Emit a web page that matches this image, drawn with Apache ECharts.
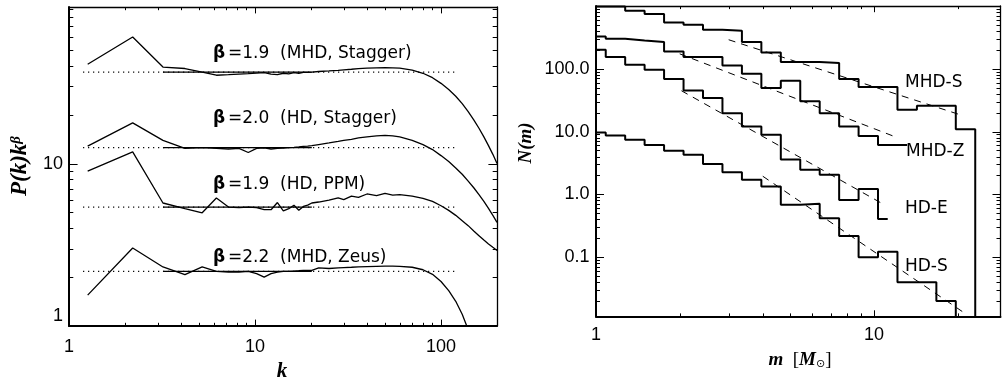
<!DOCTYPE html>
<html><head><meta charset="utf-8">
<script src="https://cdn.jsdelivr.net/npm/echarts@6/dist/echarts.min.js"></script>
<style>html,body{margin:0;padding:0;background:#fff}#c{width:1004px;height:384px}</style>
</head><body><div id="c"></div>
<script>
// ===== Left panel: compensated power spectra P(k) k^beta =====
const kLow = [1.26, 2.2, 3.2, 4.2, 5.2, 6.2, 7.2, 8.2, 9.2, 10.2, 11.2, 12.2, 13.2, 14.2, 15.2, 16.2, 17.2, 18.2, 19.2, 20.2];
const kHigh = [22, 25, 28, 30, 33, 36, 40, 45, 50, 55, 60, 70, 80, 90, 100, 110, 120, 130, 140, 150, 160, 170, 180, 190, 200];
const mhdStaggerLow = [40.9, 60.2, 39.3, 38.5, 36.6, 35.0, 35.3, 35.6, 35.8, 36.1, 36.3, 35.6, 35.3, 36.0, 35.7, 36.3, 36.0, 36.4, 36.5, 36.6];
const mhdStaggerHigh = [36.9, 37.2, 37.5, 37.8, 38.1, 38.4, 38.7, 38.9, 39.0, 38.9, 38.7, 37.6, 36.0, 33.8, 31.2, 28.6, 26.0, 23.4, 20.9, 18.6, 16.5, 14.6, 12.9, 11.4, 10.0];
const hdStaggerLow = [12.8, 17.8, 13.9, 12.4, 12.55, 12.4, 12.3, 12.4, 11.7, 12.4, 12.5, 12.3, 12.4, 12.45, 12.55, 12.6, 12.65, 12.75, 12.8, 12.9];
const hdStaggerHigh = [13.1, 13.4, 13.7, 13.9, 14.1, 14.4, 14.6, 14.8, 14.9, 14.8, 14.6, 13.9, 13.1, 12.2, 11.2, 10.3, 9.4, 8.6, 7.8, 7.1, 6.45, 5.85, 5.3, 4.8, 4.35];
const hdPpmLow = [9.0, 11.8, 5.72, 5.28, 4.98, 6.14, 5.40, 5.36, 5.40, 5.36, 5.2, 5.2, 5.76, 5.11, 5.28, 5.54, 5.16, 5.45, 5.55, 5.72];
const hdPpmHigh = [5.8, 5.95, 6.15, 6.0, 6.3, 6.2, 6.5, 6.35, 6.55, 6.4, 6.45, 6.3, 6.1, 5.85, 5.5, 5.15, 4.8, 4.45, 4.15, 3.85, 3.6, 3.38, 3.2, 3.05, 2.92];
const mhdZeusLow = [1.55, 3.02, 2.31, 2.07, 2.31, 2.17, 2.15, 2.15, 2.17, 2.10, 2.0, 2.1, 2.15, 2.17, 2.17, 2.18, 2.19, 2.2, 2.2, 2.2];
const mhdZeusHigh = [2.28, 2.26, 2.28, 2.29, 2.3, 2.31, 2.32, 2.33, 2.34, 2.34, 2.33, 2.3, 2.22, 2.08, 1.88, 1.65, 1.42, 1.18, 0.95, null, null, null, null, null, null];
const fitLevels = [36.6, 12.55, 5.40, 2.17];
const fitRangeSolid = [3.2, 20.2];
const fitRangeDotted = [1.19, 119];
const betas = ['1.9', '2.0', '1.9', '2.2'];
const models = ['(MHD, Stagger)', '(HD, Stagger)', '(HD, PPM)', '(MHD, Zeus)'];

// ===== Right panel: mass spectra N(m) =====
const massBins = [1.0, 1.175, 1.380, 1.621, 1.905, 2.238, 2.629, 3.089, 3.629, 4.263, 5.008, 5.883, 6.911, 8.119, 9.537, 11.20, 13.16, 15.46, 18.16, 21.33, 25.06];
const nMhdS = [985, 985, 841, 745, 548, 503, 419, 404, 267, 182, 128, 128, 123, 69, 51, 51, 22.2, 25.7, 25.7, 10.9, 0];
const nMhdZ = [327, 301, 283, 267, 189, 154, 154, 113, 83.3, 49.2, 64.4, 30.5, 19.6, 12.0, 8.5, 6.1, 6.1];
const nHdE = [201, 154, 116, 96.4, 69, 45.1, 34.1, 19.6, 12.0, 8.86, 3.6, 2.45, 2.04, 0.81, 1.21, 0.405];
const nHdS = [9.64, 8.64, 7.38, 6.1, 4.93, 4.25, 3.05, 2.25, 1.70, 1.33, 0.68, 0.71, 0.416, 0.217, 0.099, 0.122, 0.0396, 0.0396, 0.020, 0];
const fitMhdS = [[3.0, 290], [20.8, 18.0]];
const fitMhdZ = [[2.0, 173], [11.95, 8.2]];
const fitHdE = [[2.03, 44.6], [10.9, 0.68]];
const fitHdS = [[3.98, 1.94], [20.8, 0.0135]];
const histLabels = ['MHD-S', 'MHD-Z', 'HD-E', 'HD-S'];

// ===== Axis ranges and tick values =====
const leftX = [1, 200], leftY = [1, 92.1];
const rightX = [1, 28.5], rightY = [0.0113, 1000];
const leftXMajor = [1, 10, 100];
const leftYMajor = [1, 10];
const rightXMajor = [1, 10];
const rightYMajor = [0.1, 1, 10, 100];
const leftXMinor = [2, 3, 4, 5, 6, 7, 8, 9, 20, 30, 40, 50, 60, 70, 80, 90];
const leftYMinor = [2, 3, 4, 5, 6, 7, 8, 9, 20, 30, 40, 50, 60, 70, 80, 90];
const rightXMinor = [2, 3, 4, 5, 6, 7, 8, 9, 20];
const rightYMinor = [0.02, 0.03, 0.04, 0.05, 0.06, 0.07, 0.08, 0.09, 0.2, 0.3, 0.4, 0.5, 0.6, 0.7, 0.8, 0.9,
  2, 3, 4, 5, 6, 7, 8, 9, 20, 30, 40, 50, 60, 70, 80, 90, 200, 300, 400, 500, 600, 700, 800, 900];
const leftXLabels = {0: '1', 1: '10', 2: '100'};
const leftYLabels = {0: '1', 1: '10'};
const rightXLabels = {0: '1', 1: '10'};
const rightYLabels = {'-1': '0.1', 0: '1.0', 1: '10.0', 2: '100.0'};

// ===== helpers =====
function lg(v) { return Math.round(Math.log10(v) * 1000) / 1000; }
function fmt(map) { return function (v) { const l = lg(v); return (Number.isInteger(l) && map[l] !== undefined) ? map[l] : ''; }; }
function curve(low, high) {
  return kLow.map((k, i) => [k, low[i]]).concat(kHigh.map((k, i) => [k, high[i]]).filter(p => p[1] != null));
}
// IDL-style histogram steps (psym=10): steps halfway between bin centres
function steps(centers, vals) {
  const pts = [];
  const n = vals.length;
  for (let i = 0; i < n; i++) {
    const v = vals[i] > 0 ? vals[i] : 1e-6;
    const left = i === 0 ? centers[0] : Math.sqrt(centers[i - 1] * centers[i]);
    const right = i === n - 1 ? centers[i] : Math.sqrt(centers[i] * centers[i + 1]);
    pts.push([left, v], [right, v]);
  }
  return pts;
}
// inward tick marks on all four sides of a grid
function tickSeries(xi, yi, xr, yr, xMaj, xMin, yMaj, yMin, lxMaj, lxMin, lyMaj, lyMin) {
  const data = [];
  xMaj.forEach(v => data.push([v, yr[0], 0, lxMaj]));
  xMin.forEach(v => data.push([v, yr[0], 0, lxMin]));
  yMaj.forEach(v => data.push([xr[0], v, 1, lyMaj]));
  yMin.forEach(v => data.push([xr[0], v, 1, lyMin]));
  return {
    type: 'custom', xAxisIndex: xi, yAxisIndex: yi, silent: true, z: 10, clip: false,
    dimensions: ['x', 'y', 'kind', 'len'],
    encode: {x: 'x', y: 'y'},
    data: data,
    renderItem: function (params, api) {
      const kind = api.value('kind');
      const len = api.value('len');
      const st = {stroke: '#000', lineWidth: 1};
      if (kind === 0) {
        const v = api.value('x');
        const b = api.coord([v, yr[0]]), t = api.coord([v, yr[1]]);
        const x = Math.round(b[0]) + 0.5;
        return {type: 'group', children: [
          {type: 'line', shape: {x1: x, y1: b[1], x2: x, y2: b[1] - len}, style: st},
          {type: 'line', shape: {x1: x, y1: t[1], x2: x, y2: t[1] + len}, style: st}
        ]};
      } else {
        const v = api.value('y');
        const l = api.coord([xr[0], v]), r = api.coord([xr[1], v]);
        const y = Math.round(l[1]) + 0.5;
        return {type: 'group', children: [
          {type: 'line', shape: {x1: l[0], y1: y, x2: l[0] + len, y2: y}, style: st},
          {type: 'line', shape: {x1: r[0], y1: y, x2: r[0] - len, y2: y}, style: st}
        ]};
      }
    }
  };
}
const tickFont = {color: '#000', fontSize: 18, fontFamily: '"Liberation Sans", Arial, sans-serif'};
function xAx(grid, range, pos, main, labels, margin) {
  return {
    gridIndex: grid, type: 'log', min: range[0], max: range[1], position: pos,
    axisLine: {show: true, lineStyle: {color: '#000', width: main ? 2 : 1.3}},
    axisTick: {show: false},
    axisLabel: main ? Object.assign({show: true, margin: margin, formatter: fmt(labels)}, tickFont) : {show: false},
    splitLine: {show: false}
  };
}
function yAx(grid, range, pos, main, labels, margin, rich) {
  const lab = main ? Object.assign({show: true, margin: margin, formatter: fmt(labels)}, tickFont) : {show: false};
  if (main && rich) { lab.formatter = rich.f; lab.rich = rich.r; }
  return {
    gridIndex: grid, type: 'log', min: range[0], max: range[1], position: pos,
    axisLine: {show: true, lineStyle: {color: '#000', width: main ? 2 : 1.3}},
    axisTick: {show: false},
    axisLabel: lab, splitLine: {show: false}
  };
}
const leftYRich = {
  f: function (v) { const l = lg(v); if (l === 0) return '{up|' + leftYLabels[0] + '}'; return (Number.isInteger(l) && leftYLabels[l] !== undefined) ? leftYLabels[l] : ''; },
  r: {up: {fontSize: 18, fontFamily: '"Liberation Sans", Arial, sans-serif', color: '#000', padding: [0, 0, 20, 0]}}
};

const lineCol = '#000';
const series = [];
series.push(tickSeries(0, 0, leftX, leftY, leftXMajor, leftXMinor, leftYMajor, leftYMinor, 6.4, 3.2, 8.6, 4.3));
series.push(tickSeries(2, 2, rightX, rightY, rightXMajor, rightXMinor, rightYMajor, rightYMinor, 6.2, 3.1, 8, 4));
const leftCurves = [[mhdStaggerLow, mhdStaggerHigh], [hdStaggerLow, hdStaggerHigh], [hdPpmLow, hdPpmHigh], [mhdZeusLow, mhdZeusHigh]];
leftCurves.forEach(function (c, i) {
  series.push({type: 'line', xAxisIndex: 0, yAxisIndex: 0, data: curve(c[0], c[1]), symbol: 'none', clip: true,
    lineStyle: {color: lineCol, width: 1.3}, z: 3});
  series.push({type: 'line', xAxisIndex: 0, yAxisIndex: 0, data: [[fitRangeDotted[0], fitLevels[i]], [fitRangeDotted[1], fitLevels[i]]],
    symbol: 'none', lineStyle: {color: lineCol, width: 1.2, type: [1.2, 3.8]}, z: 2});
  series.push({type: 'line', xAxisIndex: 0, yAxisIndex: 0, data: [[fitRangeSolid[0], fitLevels[i]], [fitRangeSolid[1], fitLevels[i]]],
    symbol: 'none', lineStyle: {color: lineCol, width: 1.3}, z: 2});
});
[nMhdS, nMhdZ, nHdE, nHdS].forEach(function (h) {
  series.push({type: 'line', xAxisIndex: 2, yAxisIndex: 2, data: steps(massBins, h), symbol: 'none', clip: true,
    lineStyle: {color: lineCol, width: 2}, z: 3});
});
[fitMhdS, fitMhdZ, fitHdE, fitHdS].forEach(function (f) {
  series.push({type: 'line', xAxisIndex: 2, yAxisIndex: 2, data: f, symbol: 'none',
    lineStyle: {color: lineCol, width: 1, type: [7, 6]}, z: 2});
});

const sansFont = '"DejaVu Sans", sans-serif';
const serifFont = '"Liberation Serif", "DejaVu Serif", serif';
const graphics = [];
const betaY = [53.8, 118.5, 184.5, 257.5];
betas.forEach(function (b, i) {
  graphics.push({type: 'text', x: 213, y: betaY[i], z: 100, style: {text: 'β', fontFamily: sansFont, fontWeight: 'bold', fontSize: 17, fill: '#000', align: 'left', verticalAlign: 'middle'}});
  graphics.push({type: 'text', x: 228, y: betaY[i], z: 100, style: {text: '=' + b + '  ' + models[i], fontFamily: sansFont, fontSize: 17, fill: '#000', align: 'left', verticalAlign: 'middle'}});
});
const histLabelPos = [[905, 82.8], [906, 151.2], [905, 208.5], [905, 266.2]];
histLabels.forEach(function (t, i) {
  graphics.push({type: 'text', x: histLabelPos[i][0], y: histLabelPos[i][1], z: 100, style: {text: t, fontFamily: sansFont, fontSize: 17, fill: '#000', align: 'left', verticalAlign: 'middle'}});
});
// axis titles
graphics.push({type: 'text', x: 20, y: 166, rotation: Math.PI / 2, z: 100, style: {
  text: '{a|P(k)k}{b|β}', align: 'center', verticalAlign: 'middle',
  rich: {a: {fontFamily: serifFont, fontStyle: 'italic', fontWeight: 'bold', fontSize: 23, fill: '#000', verticalAlign: 'bottom'},
         b: {fontFamily: serifFont, fontStyle: 'italic', fontWeight: 'bold', fontSize: 15, fill: '#000', verticalAlign: 'top'}}}});
graphics.push({type: 'text', x: 282, y: 372, z: 100, style: {text: 'k', fontFamily: serifFont, fontStyle: 'italic', fontWeight: 'bold', fontSize: 21, fill: '#000', align: 'center', verticalAlign: 'middle'}});
graphics.push({type: 'text', x: 526, y: 143, rotation: Math.PI / 2, z: 100, style: {text: 'N(m)', fontFamily: serifFont, fontStyle: 'italic', fontWeight: 'bold', fontSize: 19, fill: '#000', align: 'center', verticalAlign: 'middle'}});
graphics.push({type: 'text', x: 800, y: 360, z: 100, style: {
  text: '{i|m}{n|  [}{i|M}{s|⊙}{n|]}', align: 'center', verticalAlign: 'middle',
  rich: {i: {fontFamily: serifFont, fontStyle: 'italic', fontWeight: 'bold', fontSize: 19, fill: '#000', verticalAlign: 'bottom'},
         n: {fontFamily: serifFont, fontSize: 19, fill: '#000', verticalAlign: 'bottom'},
         s: {fontFamily: sansFont, fontSize: 11, fill: '#000', verticalAlign: 'bottom'}}}});

const chart = echarts.init(document.getElementById('c'), null, {renderer: 'canvas'});
chart.setOption({
  backgroundColor: '#fff',
  animation: false,
  grid: [
    {left: 69, top: 7, width: 428, height: 319, outerBoundsMode: 'none'},
    {left: 596, top: 6, width: 404.5, height: 310.5, outerBoundsMode: 'none'}
  ],
  xAxis: [
    xAx(0, leftX, 'bottom', true, leftXLabels, 12),
    xAx(0, leftX, 'top', false),
    xAx(1, rightX, 'bottom', true, rightXLabels, 9.5),
    xAx(1, rightX, 'top', false)
  ],
  yAxis: [
    yAx(0, leftY, 'left', true, leftYLabels, 6, leftYRich),
    yAx(0, leftY, 'right', false),
    yAx(1, rightY, 'left', true, rightYLabels, 6.5),
    yAx(1, rightY, 'right', false)
  ],
  series: series,
  graphic: graphics
});
</script></body></html>
